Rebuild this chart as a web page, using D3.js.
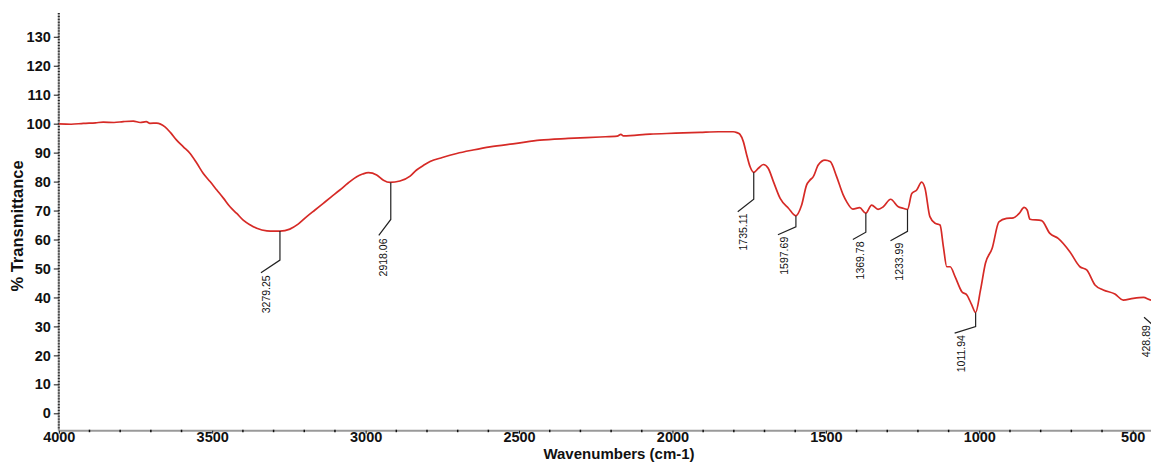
<!DOCTYPE html>
<html>
<head>
<meta charset="utf-8">
<script src="https://cdn.jsdelivr.net/npm/d3@7"></script>
<style>
  html, body { margin: 0; padding: 0; background: #fff; }
  svg { display: block; font-family: "Liberation Sans", Arial, sans-serif; }
  .axis path { stroke: #9a9a9a; stroke-width: 2; }
  .axis line { stroke: #111; }
  .axis text { font-weight: bold; fill: #111; }
</style>
</head>
<body>
<svg id="chart" width="1151" height="462"></svg>
<script>
// spectrum
const wavenumbers = [4000, 3960, 3920, 3880, 3855, 3820, 3790, 3757, 3735, 3715, 3703, 3681,
  3654, 3635, 3616, 3594, 3572, 3550, 3529, 3507, 3485, 3463, 3442, 3420, 3399, 3377, 3355,
  3322, 3300, 3279, 3247, 3220, 3192, 3165, 3138, 3111, 3084, 3057, 3029, 3010, 2991, 2964,
  2942, 2921, 2888, 2855, 2834, 2810, 2790, 2750, 2703, 2650, 2595, 2508, 2432, 2340, 2236,
  2180, 2168, 2160, 2073, 1990, 1910, 1850, 1802, 1790, 1780, 1769, 1758, 1747, 1735, 1720,
  1704, 1688, 1671, 1649, 1622, 1598, 1579, 1563, 1552, 1541, 1525, 1503, 1486, 1465, 1444,
  1432, 1412, 1390, 1370, 1351, 1330, 1313, 1289, 1264, 1248, 1234, 1220, 1204, 1188, 1177,
  1161, 1144, 1128, 1117, 1106, 1095, 1079, 1057, 1040, 1025, 1012, 996, 980, 958, 936, 911,
  889, 870, 854, 844, 835, 797, 770, 743, 705, 672, 650, 623, 596, 558, 531, 498, 465, 440,
  420, 400];
const transmittance = [99.9, 99.8, 100.1, 100.3, 100.5, 100.4, 100.7, 100.9, 100.4, 100.7, 100.1, 100.2,
  98.9, 96.8, 94.3, 92.0, 89.7, 86.3, 82.8, 80.0, 77.1, 74.2, 71.3, 69.0, 66.7, 65.1, 63.9,
  63.0, 62.9, 62.9, 63.6, 65.3, 67.9, 70.2, 72.5, 74.8, 77.1, 79.5, 81.7, 82.6, 83.1, 82.3,
  80.5, 79.7, 80.2, 81.9, 84.0, 85.7, 86.9, 88.3, 89.7, 90.9, 92.0, 93.2, 94.3, 94.9, 95.4,
  95.7, 96.3, 95.8, 96.4, 96.7, 97.0, 97.2, 97.2, 96.9, 96.3, 93.8, 89.2, 85.1, 83.2, 84.6,
  85.9, 84.6, 80.0, 74.2, 70.8, 68.2, 71.9, 78.8, 80.5, 81.7, 85.7, 87.4, 86.9, 81.7, 75.5,
  73.0, 70.5, 71.0, 69.1, 71.9, 70.4, 71.3, 73.9, 71.3, 70.8, 70.4, 75.9, 77.1, 79.8, 77.7,
  67.9, 65.6, 65.0, 57.5, 50.6, 50.6, 47.2, 42.0, 40.8, 37.5, 34.8, 42.6, 51.8, 57.0, 66.1, 67.3,
  67.5, 69.0, 71.1, 70.2, 67.0, 66.5, 62.1, 60.4, 55.8, 50.6, 49.5, 44.3, 42.6, 41.2, 39.1, 39.7, 40.0, 39.1,
  39.3, 39.0];

// labelled peaks
const peakWn = [3279.25, 2918.06, 1735.11, 1597.69, 1369.78, 1233.99, 1011.94, 428.89];
const peakT  = [62.9, 79.7, 83.2, 68.2, 69.1, 70.4, 34.8, 39.3];
const peakLabels = ['3279.25', '2918.06', '1735.11', '1597.69', '1369.78', '1233.99', '1011.94', '428.89'];
// leader shape per peak: [drop, dx, dy, textDx, textDy] in px
const leaders = [
  [29, 19, 12.7, 5, 2.5],
  [37, 12, 16, 4, 3],
  [27, 16, 12.5, 5, 1.5],
  [11, 18, 8, 6.5, 2],
  [19, 13, 7.3, 7, 2],
  [22, 17, 9.3, 8, 2],
  [14, 21, 6.6, 6.7, 2],
  [27, 10.5, -9.3, 2, 8]
];

const xTicks = [4000, 3500, 3000, 2500, 2000, 1500, 1000, 500];
const yTicks = d3.range(0, 131, 10);

const svg = d3.select('#chart');
const x = d3.scaleLinear().domain([4000, 400]).range([58.8, 1163.4]);
const y = d3.scaleLinear().domain([-6, 138.2]).range([430.7, 13]);
const baseY = y(-6);

// y axis
const yAxis = svg.append('g')
    .attr('class', 'axis')
    .attr('transform', `translate(${x(4000)},0)`);
yAxis.call(d3.axisLeft(y).tickValues(yTicks).tickSize(5).tickSizeOuter(0).tickPadding(3));
yAxis.selectAll('text').style('font-size', '14.5px');
yAxis.select('.domain').attr('d', `M0,${baseY}V${y(138.2)}`);

svg.append('g')
    .attr('transform', `translate(${x(4000) + 1},0)`)
    .selectAll('line')
    .data(d3.range(-5, 139, 1))
    .join('line')
    .attr('x1', -2).attr('x2', 0)
    .attr('y1', d => y(d)).attr('y2', d => y(d))
    .attr('stroke', '#222').attr('stroke-width', 1);

// x axis
const xAxis = svg.append('g')
    .attr('class', 'axis')
    .attr('transform', `translate(0,${baseY})`);
xAxis.call(d3.axisBottom(x).tickValues(xTicks).tickFormat(d3.format('d')).tickSize(3).tickSizeOuter(0).tickPadding(0));
xAxis.selectAll('text').style('font-size', '14.5px').attr('dy', '0.6em');
xAxis.select('.domain').attr('d', `M${x(4000)},0H1151`);

svg.append('g')
    .attr('transform', `translate(0,${baseY})`)
    .selectAll('line')
    .data(d3.range(3900, 400, -100).filter(d => d % 500 !== 0))
    .join('line')
    .attr('x1', d => x(d)).attr('x2', d => x(d))
    .attr('y1', -1).attr('y2', 1.5)
    .attr('stroke', '#111').attr('stroke-width', 1.5);

// titles
svg.append('text')
    .attr('x', 619).attr('y', 458.5)
    .attr('text-anchor', 'middle')
    .style('font-size', '15px').style('font-weight', 'bold').attr('fill', '#111')
    .text('Wavenumbers (cm-1)');

svg.append('text')
    .attr('transform', 'translate(23,226) rotate(-90)')
    .attr('text-anchor', 'middle')
    .style('font-size', '16.5px').style('font-weight', 'bold').attr('fill', '#111')
    .text('% Transmittance');

// spectrum
const spectrum = wavenumbers.map((w, i) => [w, transmittance[i]]);
svg.append('defs').append('clipPath').attr('id', 'plot')
    .append('rect').attr('x', x(4000)).attr('y', 0).attr('width', 1151 - x(4000)).attr('height', baseY);

svg.append('path')
    .datum(spectrum)
    .attr('clip-path', 'url(#plot)')
    .attr('fill', 'none')
    .attr('stroke', '#d62a26')
    .attr('stroke-width', 1.7)
    .attr('stroke-linejoin', 'round')
    .attr('d', d3.line().x(d => x(d[0])).y(d => y(d[1])).curve(d3.curveMonotoneX));

// peak markers
const marks = svg.append('g');
peakWn.forEach((w, i) => {
  const px = x(w), py = y(peakT[i]);
  const [drop, dx, dy, tx, ty] = leaders[i];
  const ex = px - dx, ey = py + drop + dy;
  marks.append('path')
      .attr('d', `M${px},${py}V${py + drop}L${ex},${ey}`)
      .attr('fill', 'none').attr('stroke', '#222').attr('stroke-width', 1.2);
  marks.append('text')
      .attr('transform', `translate(${ex + tx},${ey + ty}) rotate(-90)`)
      .attr('text-anchor', 'end')
      .attr('dominant-baseline', 'central')
      .style('font-size', '10.5px').attr('fill', '#111')
      .text(peakLabels[i]);
});
</script>
</body>
</html>
